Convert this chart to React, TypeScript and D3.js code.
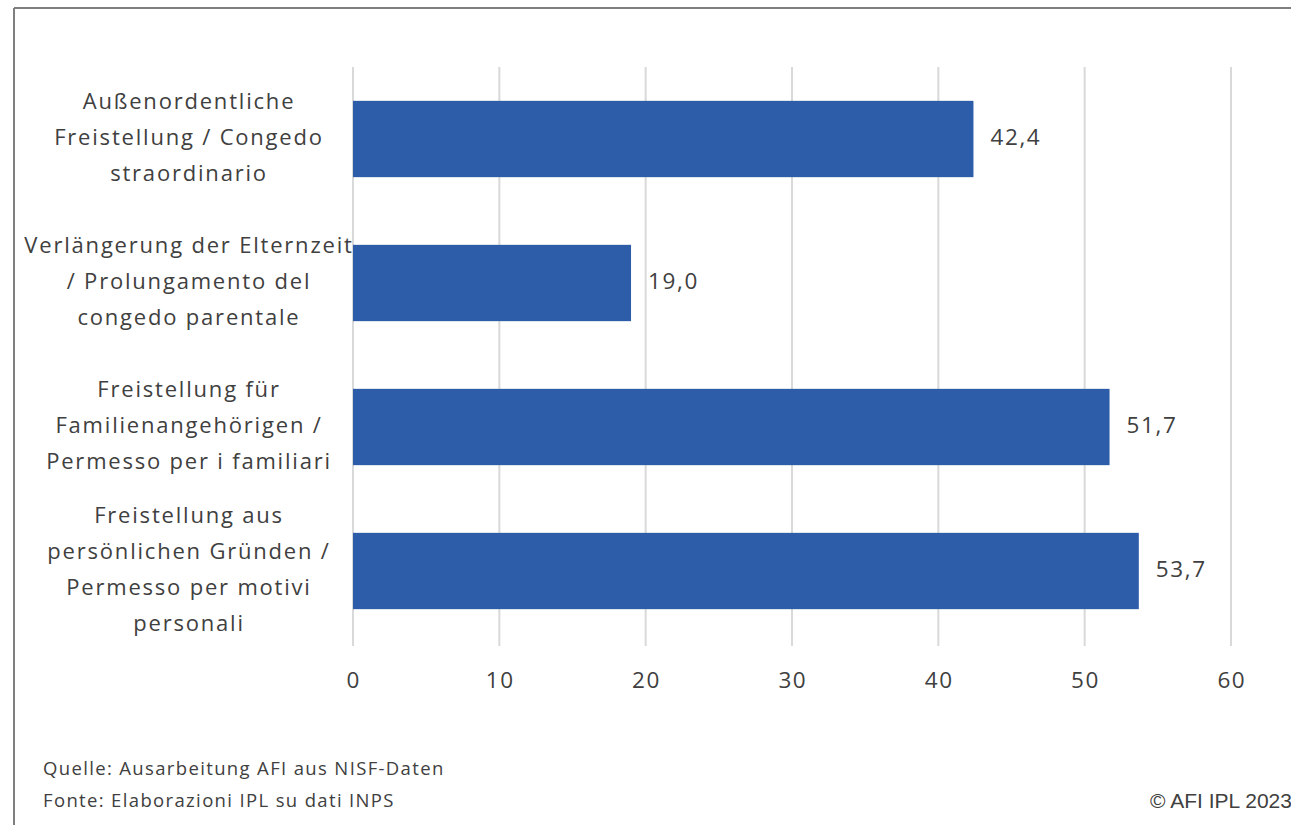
import React from "react";
import * as d3 from "d3";

const categories: string[][] = [
  ["Außenordentliche", "Freistellung / Congedo", "straordinario"],
  ["Verlängerung der Elternzeit", "/ Prolungamento del", "congedo parentale"],
  ["Freistellung für", "Familienangehörigen /", "Permesso per i familiari"],
  ["Freistellung aus", "persönlichen Gründen /", "Permesso per motivi", "personali"],
];
const values: number[] = [42.4, 19.0, 51.7, 53.7];
const ticks: number[] = [0, 10, 20, 30, 40, 50, 60];
const sourceLines: string[] = [
  "Quelle: Ausarbeitung AFI aus NISF-Daten",
  "Fonte: Elaborazioni IPL su dati INPS",
];
const copyright = "© AFI IPL 2023";

const W = 1291;
const H = 825;
const left = 353;
const right = 1231;
const top = 67;
const bottom = 643;
const font = "'Open Sans', Lato, sans-serif";

export default function App() {
  const x = d3.scaleLinear().domain([0, 60]).range([left, right]);
  const y = d3
    .scaleBand<number>()
    .domain(d3.range(values.length))
    .range([top, bottom])
    .paddingInner(0.47)
    .paddingOuter(0.235);
  const lh = 36;
  return (
    <svg
      width={W}
      height={H}
      style={{ position: "absolute", left: 0, top: 0, background: "#fff" }}
    >
      <rect x={0} y={0} width={W} height={H} fill="#fff" />
      <line x1={14} y1={8} x2={W} y2={8} stroke="#7f7f7f" strokeWidth={2} />
      <line x1={14} y1={8} x2={14} y2={H} stroke="#7f7f7f" strokeWidth={2} />
      {ticks.map((t) => (
        <g key={t}>
          <line x1={x(t)} x2={x(t)} y1={top} y2={bottom + 3} stroke="#d9d9d9" strokeWidth={2} />
          <text
            x={x(t) + 0.8}
            y={682}
            textAnchor="middle"
            dominantBaseline="middle"
            fontFamily={font}
            fontSize={22.5}
            letterSpacing={1.5}
            fill="#404040"
          >
            {t}
          </text>
        </g>
      ))}
      {values.map((v, i) => {
        const by = y(i)!;
        const bh = y.bandwidth();
        const cy = by + bh / 2;
        const lines = categories[i];
        const startY = cy - ((lines.length - 1) * lh) / 2;
        return (
          <g key={i}>
            <rect x={x(0)} y={by} width={x(v) - x(0)} height={bh} fill="#2D5CA9" />
            <text
              x={x(v) + 17}
              y={cy}
              dominantBaseline="middle"
              fontFamily={font}
              fontSize={22.5}
              letterSpacing={1.6}
              fill="#404040"
            >
              {v.toFixed(1).replace(".", ",")}
            </text>
            {lines.map((l, j) => (
              <text
                key={j}
                x={189}
                y={startY + j * lh}
                textAnchor="middle"
                dominantBaseline="middle"
                fontFamily={font}
                fontSize={22}
                letterSpacing={1.8}
                fill="#404040"
              >
                {l}
              </text>
            ))}
          </g>
        );
      })}
      {sourceLines.map((s, i) => (
        <text
          key={i}
          x={43}
          y={770 + i * 32}
          dominantBaseline="middle"
          fontFamily={font}
          fontSize={18.5}
          letterSpacing={1.35}
          fill="#404040"
        >
          {s}
        </text>
      ))}
      <text
        x={1150}
        y={802}
        dominantBaseline="middle"
        fontFamily="'Liberation Sans', Arial, sans-serif"
        fontSize={21}
        fill="#404040"
      >
        {copyright}
      </text>
    </svg>
  );
}
